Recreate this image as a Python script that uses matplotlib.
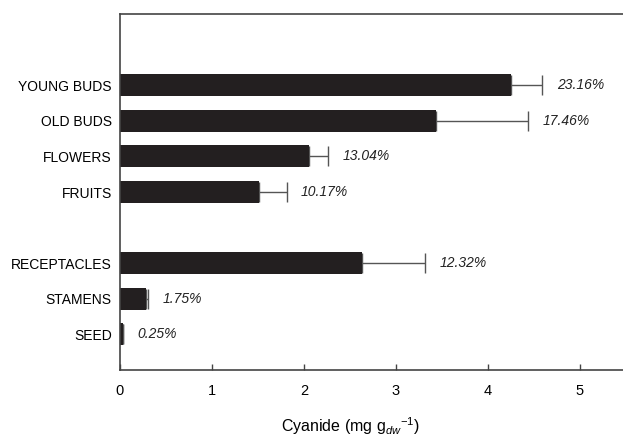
import numpy as np
import matplotlib
matplotlib.use("Agg")
from matplotlib import pyplot as plt

plt.rcParams['font.family'] = ['Liberation Sans', 'DejaVu Sans']
plt.rcParams['mathtext.fontset'] = 'custom'
plt.rcParams['mathtext.rm'] = 'Liberation Sans'
plt.rcParams['mathtext.it'] = 'Liberation Sans:italic'

# data
organs = ["YOUNG BUDS", "OLD BUDS", "FLOWERS", "FRUITS",
          "RECEPTACLES", "STAMENS", "SEED"]
group = [0, 0, 0, 0, 1, 1, 1]
cyanide = [4.25, 3.43, 2.05, 1.51, 2.63, 0.28, 0.03]
errors = [0.34, 1.00, 0.21, 0.30, 0.69, 0.02, 0.0]
percent = ["23.16%", "17.46%", "13.04%", "10.17%", "12.32%", "1.75%", "0.25%"]

W, H = 623, 436
fig = plt.figure(figsize=(W / 100, H / 100), dpi=100)
ax = fig.add_axes([120 / W, 66 / H, 503 / W, 356 / H])

pos = np.arange(len(organs)) + np.array(group)
ax.barh(pos, cyanide, height=0.62, color='#231f20', zorder=2)
ax.errorbar(cyanide, pos, xerr=[np.zeros(len(errors)), errors],
            fmt='none', ecolor='#555555', elinewidth=1.0, capsize=7,
            capthick=1.0, zorder=1)

for p, v, e, t in zip(pos, cyanide, errors, percent):
    ax.annotate(t, xy=(v + e, p), xytext=(10.5, 0), textcoords='offset points',
                ha='left', va='center', fontsize=10, style='italic',
                color='#222222')

xmax = 503 / 92.0
ax.set_xlim(0, xmax)
ax.set_ylim(8, -2)
ax.set_yticks(pos)
ax.set_yticklabels(organs, fontsize=10)
ax.tick_params(axis='y', length=0, pad=6)
ax.set_xticks(range(6))
ax.tick_params(axis='x', direction='in', length=4, width=1, color='#444444',
               labelsize=10.5, pad=10)

for s in ['left', 'top', 'bottom']:
    ax.spines[s].set_color('#444444')
    ax.spines[s].set_linewidth(1.2)
ax.spines['right'].set_visible(False)

ax.set_xlabel("Cyanide (mg g$_{dw}$$^{-1}$)", fontsize=11.5)
ax.xaxis.set_label_coords(2.5 / xmax, -0.128)

fig.savefig("out.png", dpi=100)
